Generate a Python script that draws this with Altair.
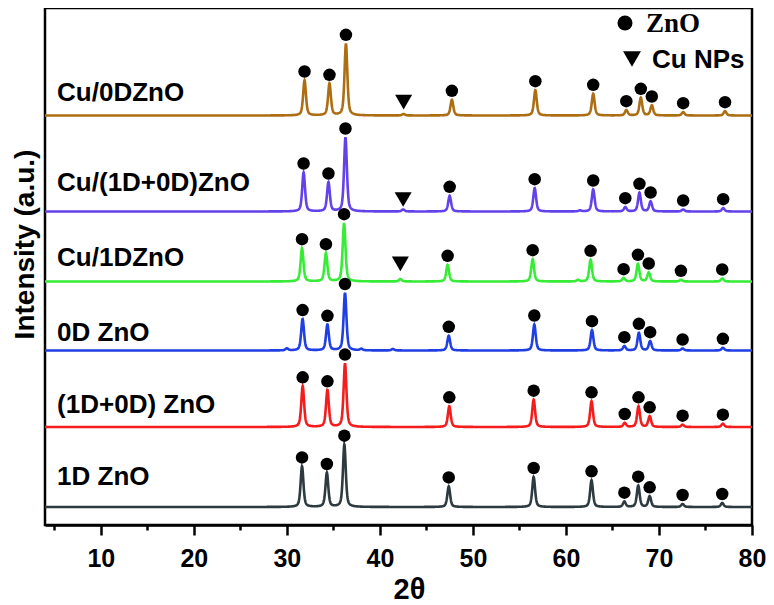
import altair as alt
import numpy as np
import pandas as pd

# ---------------- data ----------------
SAMPLES = ["1D ZnO", "(1D+0D) ZnO", "0D ZnO", "Cu/1DZnO", "Cu/(1D+0D)ZnO", "Cu/0DZnO"]
COLORS = ["#2d3a40", "#f41c1c", "#1f3fe4", "#36ec36", "#6442ea", "#ad6d12"]
# vertical offsets of each stacked pattern (a.u.)
BASELINES = [18, 98, 174.5, 243.5, 313.5, 409.5]

# ZnO reflections (2theta) per pattern
POS_1D = [31.63, 34.30, 36.18, 47.40, 56.53, 62.75, 66.28, 67.77, 69.00, 72.54, 76.80]
POS_1D0D = [31.70, 34.36, 36.25, 47.46, 56.53, 62.75, 66.32, 67.80, 69.00, 72.54, 76.87]
POS_0D = [31.69, 34.36, 36.25, 47.40, 56.60, 62.80, 66.28, 67.84, 69.05, 72.54, 76.87]
POS_CU1D = [31.63, 34.20, 36.15, 47.28, 56.42, 62.65, 66.20, 67.74, 68.90, 72.36, 76.80]
POS_CU1D0D = [31.80, 34.47, 36.30, 47.50, 56.64, 62.93, 66.38, 67.90, 69.10, 72.60, 76.90]
POS_CU0D = [31.90, 34.58, 36.35, 47.74, 56.71, 62.93, 66.49, 68.05, 69.23, 72.60, 77.10]

# ZnO peak intensities (a.u. above each baseline)
INT_1D = [40.6, 34.0, 62.3, 20.6, 30.0, 26.7, 5.3, 21.3, 10.7, 3.0, 4.0]
INT_1D0D = [40.7, 36.7, 63.4, 20.7, 27.3, 25.7, 4.0, 20.7, 10.7, 2.3, 3.3]
INT_0D = [31.4, 25.7, 57.5, 14.7, 26.0, 20.3, 4.3, 17.7, 9.3, 2.0, 2.7]
INT_CU1D = [33.3, 28.3, 58.3, 16.7, 22.3, 21.7, 3.3, 17.7, 9.0, 1.7, 3.0]
INT_CU1D0D = [39.0, 29.0, 74.0, 15.7, 23.3, 22.0, 4.3, 18.7, 10.0, 2.0, 3.3]
INT_CU0D = [35.0, 31.7, 71.7, 15.7, 25.3, 21.7, 5.3, 17.7, 10.0, 3.3, 4.3]

# weak extra humps (position, intensity)
MINOR_POS = [[], [], [30.0, 38.0, 41.4], [42.2, 61.3], [42.5, 61.5], [42.55]]
MINOR_INT = [[], [], [2.0, 1.5, 1.5], [2.5, 1.5], [2.0, 1.0], [1.5]]

# Cu NPs markers (2theta) on the Cu-loaded patterns
CU_SAMPLES = ["Cu/1DZnO", "Cu/(1D+0D)ZnO", "Cu/0DZnO"]
CU_POS = [42.2, 42.5, 42.55]

POSITIONS = [POS_1D, POS_1D0D, POS_0D, POS_CU1D, POS_CU1D0D, POS_CU0D]
INTENSITIES = [INT_1D, INT_1D0D, INT_0D, INT_CU1D, INT_CU1D0D, INT_CU0D]

# ---------------- layout constants ----------------
HWHM = 0.18
LABEL_X = 5.3
LABEL_RAISE = [30, 22, 18, 24, 29, 23]
DOT_RAISE = 9
CU_RAISE = [17.7, 12, 13.3]
FONT = "Liberation Sans"
PLOT_W = 707
PLOT_H = 517

# ---------------- build tables ----------------
grid = np.round(np.arange(4.0, 80.0001, 0.025), 3)
rows = []
for s, base, pos, inten, mp, mi in zip(SAMPLES, BASELINES, POSITIONS, INTENSITIES,
                                       MINOR_POS, MINOR_INT):
    y = np.zeros_like(grid)
    for p, h in list(zip(pos, inten)) + list(zip(mp, mi)):
        u = (grid - p) / HWHM
        y += h * (0.5 / (1 + u ** 2) + 0.5 * np.exp(-np.log(2) * u ** 2))
    rows.append(pd.DataFrame({"x": grid, "y": base + y, "sample": s}))
lines_df = pd.concat(rows, ignore_index=True)

dot_rows = []
for s, base, pos, inten in zip(SAMPLES, BASELINES, POSITIONS, INTENSITIES):
    for p, h in zip(pos, inten):
        dot_rows.append({"x": p, "y": base + h + DOT_RAISE, "sample": s})
dots_df = pd.DataFrame(dot_rows)

cu_df = pd.DataFrame({
    "x": CU_POS,
    "y": [BASELINES[SAMPLES.index(s)] + r for s, r in zip(CU_SAMPLES, CU_RAISE)],
    "sample": CU_SAMPLES,
})

label_df = pd.DataFrame({
    "x": [LABEL_X] * len(SAMPLES),
    "y": [b + r for b, r in zip(BASELINES, LABEL_RAISE)],
    "sample": SAMPLES,
})

# ---------------- scales ----------------
xs = alt.Scale(domain=[4, 80], nice=False, zero=False)
ys = alt.Scale(domain=[0, 517], nice=False, zero=False)

x_axis = alt.Axis(
    values=list(range(5, 81, 5)),
    labelExpr="datum.value % 10 == 0 ? datum.label : ''",
    labelOverlap=False, labelFlush=False,
    tickSize={"condition": {"test": "datum.value % 10 != 0", "value": 5}, "value": 10},
    tickWidth=2.5, tickColor="black",
    domainColor="black", domainWidth=2.5,
    grid=False,
    labelFont=FONT, labelFontSize=25, labelFontWeight="bold", labelColor="black",
    labelPadding=11,
    title="2θ", titleFont=FONT, titleFontSize=29, titleFontWeight="bold", titleColor="black",
    titleX=364, titleY=64, titleBaseline="middle", titleAlign="center",
)
y_axis = alt.Axis(
    labels=False, ticks=False, grid=False, domain=False,
    title="Intensity (a.u.)", titleFont=FONT, titleFontSize=28, titleFontWeight="bold",
    titleColor="black", titleX=-20, titleY=236, titleBaseline="middle", titleAlign="center",
    titleAngle=270,
)

lines = alt.Chart(lines_df).mark_line(strokeWidth=2.6, interpolate="linear").encode(
    x=alt.X("x:Q", scale=xs, axis=x_axis),
    y=alt.Y("y:Q", scale=ys, axis=y_axis),
    color=alt.Color("sample:N", scale=alt.Scale(domain=SAMPLES, range=COLORS), legend=None),
    detail="sample:N",
)

dots = alt.Chart(dots_df).mark_point(shape="circle", filled=True, size=156, color="black",
                                     opacity=1).encode(
    x=alt.X("x:Q", scale=xs), y=alt.Y("y:Q", scale=ys))

tris = alt.Chart(cu_df).mark_point(shape="triangle-down", filled=True, size=290, color="black",
                                   opacity=1).encode(
    x=alt.X("x:Q", scale=xs), y=alt.Y("y:Q", scale=ys))

labels = alt.Chart(label_df).mark_text(align="left", baseline="middle", font=FONT, fontSize=26,
                                       fontWeight="bold", color="black").encode(
    x=alt.X("x:Q", scale=xs), y=alt.Y("y:Q", scale=ys), text="sample:N")

# legend (top right)
leg_dot = alt.Chart(pd.DataFrame({"k": ["ZnO"]})).mark_point(
    shape="circle", filled=True, size=225, color="black", opacity=1).encode(
    x=alt.value(580), y=alt.value(15))
leg_tri = alt.Chart(pd.DataFrame({"k": ["Cu NPs"]})).mark_point(
    shape="triangle-down", filled=True, size=320, color="black", opacity=1).encode(
    x=alt.value(587), y=alt.value(51))
leg_zno = alt.Chart(pd.DataFrame({"k": ["ZnO"]})).mark_text(
    align="left", baseline="middle", font="Liberation Serif", fontSize=27, fontWeight="bold",
    color="black").encode(x=alt.value(601), y=alt.value(16), text="k:N")
leg_cu = alt.Chart(pd.DataFrame({"k": ["Cu NPs"]})).mark_text(
    align="left", baseline="middle", font=FONT, fontSize=26, fontWeight="bold",
    color="black").encode(x=alt.value(607), y=alt.value(52), text="k:N")

chart = alt.layer(lines, dots, tris, labels, leg_dot, leg_tri, leg_zno, leg_cu).properties(
    width=PLOT_W, height=PLOT_H,
    autosize=alt.AutoSizeParams(type="none"),
    padding={"left": 37, "top": 0, "right": 14, "bottom": 80},
    background="white",
).configure_view(stroke="black", strokeWidth=2.5)

chart.save("out.html", embed_options={"renderer": "svg", "actions": False})
